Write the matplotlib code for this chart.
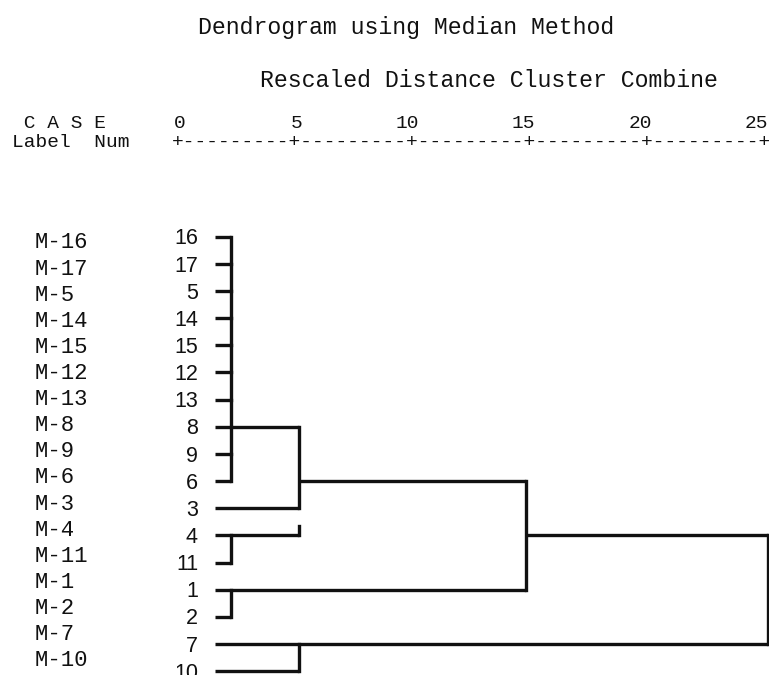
import matplotlib
matplotlib.use("Agg")
import matplotlib.pyplot as plt

# --- data: leaf order, case numbers, merges (rescaled distance) ---
case_labels = ["M-16", "M-17", "M-5", "M-14", "M-15", "M-12", "M-13", "M-8", "M-9",
               "M-6", "M-3", "M-4", "M-11", "M-1", "M-2", "M-7", "M-10"]
case_nums = [16, 17, 5, 14, 15, 12, 13, 8, 9, 6, 3, 4, 11, 1, 2, 7, 10]

# merge name -> (children, rescaled distance, case number the outgoing line leaves from)
merges = {
    "A": ([16, 17, 5, 14, 15, 12, 13, 8, 9, 6], 2.2, 8),
    "C": ([4, 11], 2.2, 4),
    "D": ([1, 2], 2.2, 1),
    "B": (["A", 3, "C"], 5.1, 6),
    "G": ([7, 10], 5.1, 7),
    "E": (["B", "D"], 14.85, 4),
    "F": (["E", "G"], 25.2, None),
}
# in the printed chart the link of C into B is only a short stub
broken_links = {("B", "C")}

scale_ticks = [0, 5, 10, 15, 20, 25]

# --- layout (pixels of the 769x675 picture) ---
W, H = 769, 675
X0_PX, UNIT_PX = 180, 23.32      # distance 0 and px per unit
ROW0_PX, ROW_PX = 236.7, 27.15   # first leaf row and row spacing
LAB0_PX, LAB_PX = 243, 26.1      # case label column drifts a little
LEAF_START = 1.5
LW = 2.4
INK = "#111111"
MONO = "Liberation Mono"
SANS = "Liberation Sans"

fig = plt.figure(figsize=(W / 100, H / 100), dpi=100)
ax = fig.add_axes([0, 0, 1, 1])
ax.set_xlim(-X0_PX / UNIT_PX, (W - X0_PX) / UNIT_PX)
ax.set_ylim((H - ROW0_PX) / ROW_PX, -ROW0_PX / ROW_PX)
ax.axis("off")


def py(px):
    # pixel row -> data y
    return (px - ROW0_PX) / ROW_PX


def px_x(px):
    return (px - X0_PX) / UNIT_PX


row_of = {n: i for i, n in enumerate(case_nums)}
out_row = {}
out_x = {}


def node_row(c):
    return row_of[c] if not isinstance(c, str) else out_row[c]


def node_x(c):
    return LEAF_START if not isinstance(c, str) else out_x[c]


for name, (children, dist, leave_at) in merges.items():
    rows = []
    for c in children:
        r = node_row(c)
        ax.plot([node_x(c), dist], [r, r], color=INK, lw=LW, solid_capstyle="butt")
        rows.append((r, c))
    rows.sort()
    for (r0, c0), (r1, c1) in zip(rows[:-1], rows[1:]):
        if (name, c1) in broken_links:
            r0 = r1 - 0.35
        elif (name, c0) in broken_links:
            r1 = r0 + 0.35
        ax.plot([dist, dist], [r0, r1], color=INK, lw=LW, solid_capstyle="projecting")
    out_x[name] = dist
    out_row[name] = row_of[leave_at] if leave_at is not None else rows[0][0]

# leaf labels and case numbers
for i, (lab, num) in enumerate(zip(case_labels, case_nums)):
    ax.text(px_x(35), py(LAB0_PX + i * LAB_PX), lab, family=MONO, fontsize=16,
            ha="left", va="center", color=INK)
    ax.text(px_x(198), i + 0.08, str(num), family=SANS, fontsize=15.5, ha="right",
            va="center", color=INK)

# header: title, scale caption, scale numbers and ruler
fig.text(406.5 / W, 1 - 34 / H, "Dendrogram using Median Method", family=MONO, fontsize=16.7,
         ha="center", va="baseline", color=INK)
fig.text(488.5 / W, 1 - 87 / H, "Rescaled Distance Cluster Combine", family=MONO, fontsize=16.7,
         ha="center", va="baseline", color=INK)

for t in scale_ticks:
    # last digit sits over the tick, as in the printed output
    ax.text(t + px_x(X0_PX + 5.5), py(128), str(t), family=MONO, fontsize=14, ha="right",
            va="baseline", color=INK)
ruler = "+" + "+".join(["-" * 9] * (len(scale_ticks) - 1)) + "+"
ax.text((scale_ticks[0] + scale_ticks[-1]) / 2, py(147), ruler, family=MONO, fontsize=14,
        ha="center", va="baseline", color=INK)
ax.text(px_x(12), py(128), " C A S E", family=MONO, fontsize=14, ha="left", va="baseline", color=INK)
ax.text(px_x(12), py(147), "Label  Num", family=MONO, fontsize=14, ha="left", va="baseline", color=INK)

fig.savefig("out.png", dpi=100)
